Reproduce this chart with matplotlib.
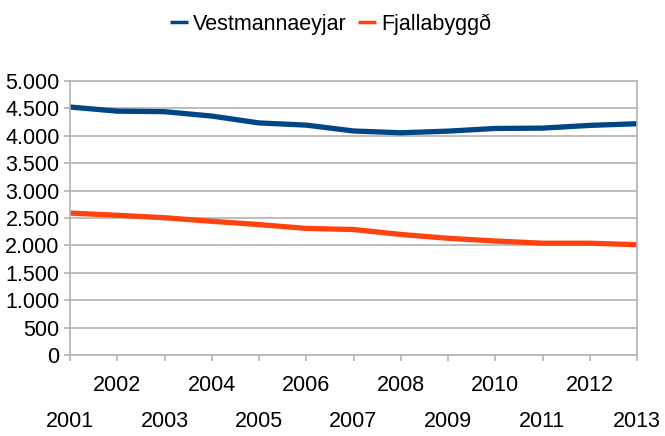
import matplotlib
matplotlib.use("Agg")
import matplotlib.pyplot as plt
from matplotlib.ticker import FuncFormatter, FixedLocator

years = list(range(2001, 2014))
vestmannaeyjar = [4525, 4450, 4440, 4360, 4235, 4195, 4088, 4055, 4085, 4134, 4140, 4190, 4220]
fjallabyggd = [2590, 2550, 2505, 2440, 2380, 2310, 2290, 2200, 2130, 2080, 2040, 2040, 2013]
series_names = ["Vestmannaeyjar", "Fjallabyggð"]
colors = ["#004586", "#ff420e"]

plt.rcParams['font.family'] = ['Liberation Sans Narrow', 'Liberation Sans', 'DejaVu Sans']
FS = 15.5
grid_c = "#b3b3b3"

fig = plt.figure(figsize=(6.65, 4.36), dpi=100)
ax = fig.add_axes([70/665, 1-355/436, (637-70)/665, (355-81)/436])

for vals, name, c in zip([vestmannaeyjar, fjallabyggd], series_names, colors):
    ax.plot(years, vals, color=c, lw=3.8, label=name, solid_capstyle='butt', solid_joinstyle='round')

ax.set_xlim(2001, 2013)
ax.set_ylim(0, 5000)
ax.set_yticks(range(0, 5001, 500))
ax.yaxis.set_major_formatter(FuncFormatter(lambda v, p: f"{int(v):,}".replace(",", ".")))
ax.grid(axis='y', color=grid_c, lw=1.2)
ax.set_axisbelow(True)

odd = [y for y in years if y % 2 == 1]
even = [y for y in years if y % 2 == 0]
ax.xaxis.set_major_locator(FixedLocator(odd))
ax.xaxis.set_minor_locator(FixedLocator(even))
ax.set_xticklabels([str(y) for y in odd])
ax.set_xticklabels([str(y) for y in even], minor=True)
ax.tick_params(axis='x', which='major', length=4.5, color=grid_c, width=1.2, pad=36, labelsize=FS)
ax.tick_params(axis='x', which='minor', length=4.5, color=grid_c, width=1.2, pad=10, labelsize=FS)
ax.tick_params(axis='y', length=4.5, color=grid_c, width=1.2, pad=3, labelsize=FS)

for s in ax.spines.values():
    s.set_color(grid_c)
    s.set_linewidth(1.2)

leg = fig.legend(loc='center', bbox_to_anchor=(0.497, 0.945), ncol=2, frameon=False,
                 fontsize=FS, handlelength=0.85, handletextpad=0.25, columnspacing=0.5)
for h in leg.legend_handles:
    h.set_linewidth(2.5)

fig.savefig("out.png", dpi=100, facecolor="white")
